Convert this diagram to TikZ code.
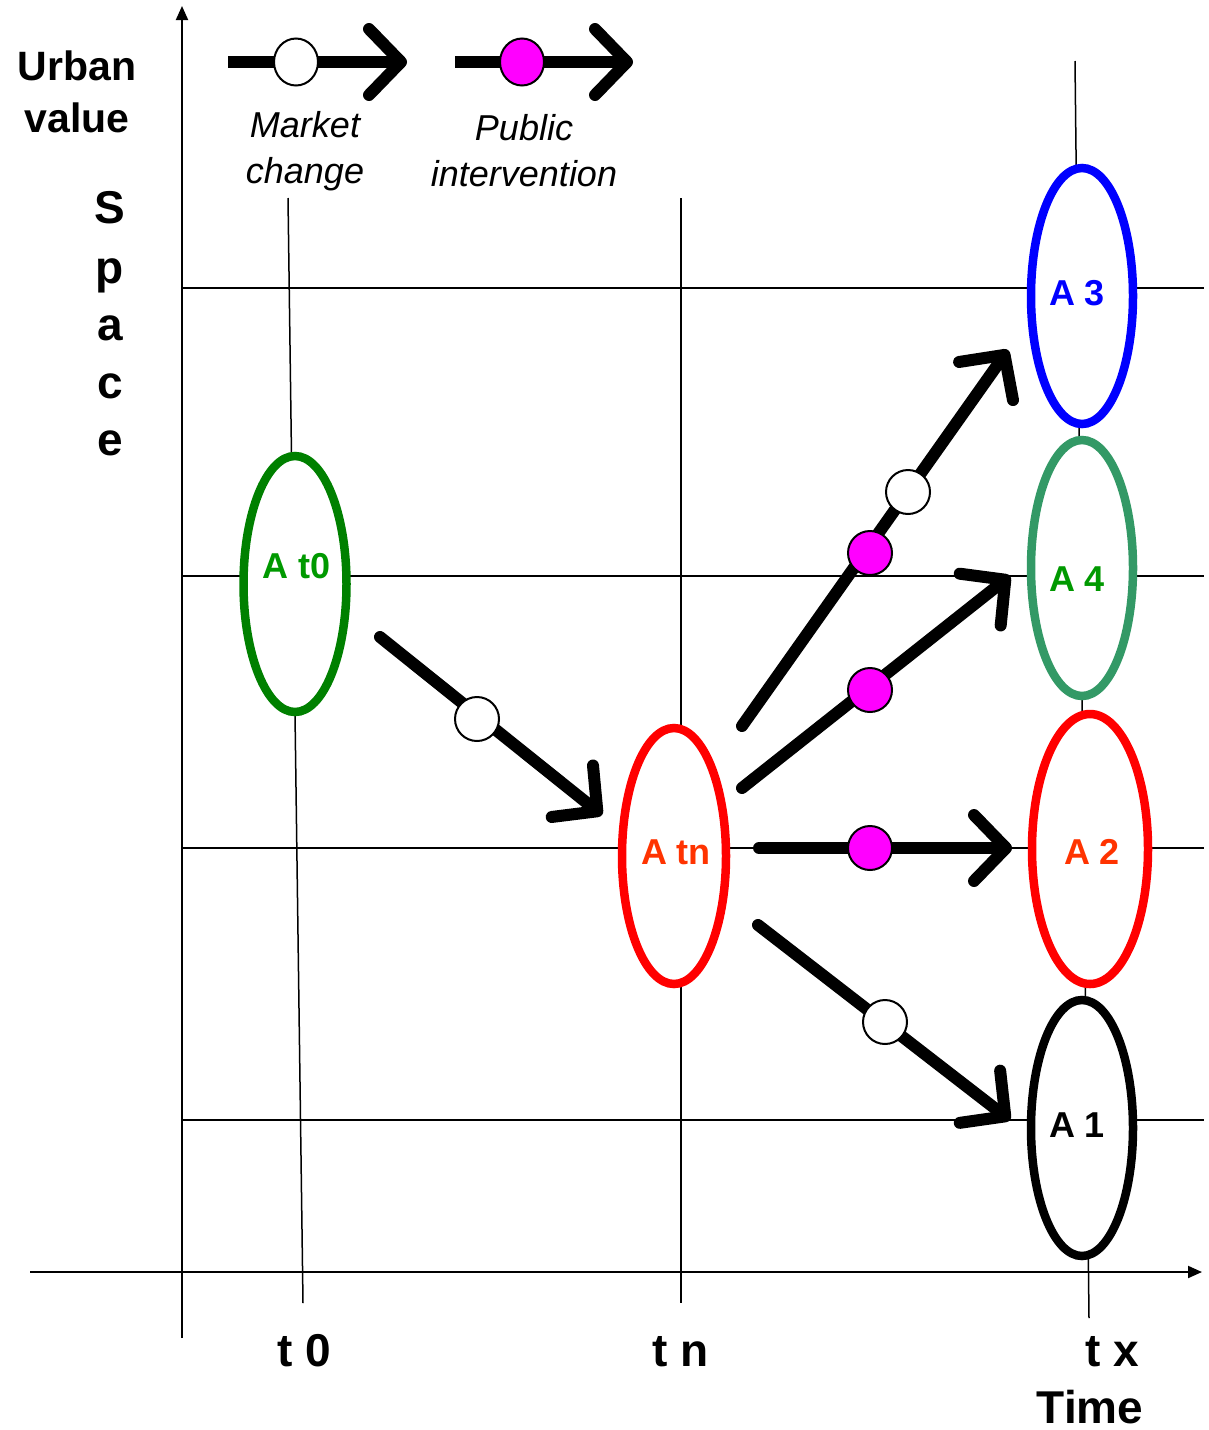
\documentclass[tikz,border=0pt]{standalone}
\usepackage{fontspec}
\setmainfont{Liberation Sans}
\usetikzlibrary{arrows.meta,shapes.geometric}
\definecolor{cgreen}{RGB}{0,128,0}
\definecolor{tgreen}{RGB}{0,153,0}
\definecolor{sgreen}{RGB}{51,153,102}
\definecolor{tred}{RGB}{255,51,0}
\definecolor{cmag}{RGB}{255,0,255}
\tikzset{
  axis/.style={line width=2pt,-{Triangle[length=14pt,width=12pt]}},
  grid/.style={line width=1.5pt},
  zone/.style={ellipse,line width=8.5pt,inner sep=0pt,fill=white},
  zlab/.style={font=\fontsize{36}{40}\selectfont\bfseries},
  flow/.style={line width=12pt,line cap=round,-{Straight Barb[length=32pt,width=66pt,round]}},
  mkt/.style={circle,draw=black,fill=white,line width=2pt,minimum size=44pt,inner sep=0pt},
  pub/.style={circle,draw=black,fill=cmag,line width=2pt,minimum size=44pt,inner sep=0pt},
  big/.style={font=\fontsize{46}{52}\selectfont\bfseries},
  lab/.style={font=\fontsize{36}{46}\selectfont\itshape,align=center}
}
\begin{document}
\begin{tikzpicture}[x=1pt,y=-1pt]
\useasboundingbox (0,0) rectangle (1209,1430);
% axes
\coordinate (yb) at (182,1338); \coordinate (yt) at (182,6);
\coordinate (xl) at (30,1272); \coordinate (xr) at (1202,1272);
\draw[axis] (yb) -- (yt);
\draw[axis] (xl) -- (xr);
% grid lines
\foreach \y/\n in {288/g3,576/g4,848/g2,1120/g1}{
  \coordinate (\n l) at (182,\y); \coordinate (\n r) at (1204,\y);
  \draw[grid] (\n l) -- (\n r);
}
% time lines
\coordinate (t0t) at (288,198); \coordinate (t0b) at (303,1303);
\coordinate (tnt) at (681,198); \coordinate (tnb) at (681,1303);
\coordinate (txt) at (1075,61); \coordinate (txb) at (1089,1318);
\draw[grid] (t0t) -- (t0b);
\draw[grid] (tnt) -- (tnb);
\draw[grid] (txt) -- (txb);
% zones
\node[zone,draw=cgreen,minimum width=103pt,minimum height=256pt] (At0) at (295,584) {};
\node[zone,draw=red,minimum width=104pt,minimum height=256pt] (Atn) at (674,856) {};
\node[zone,draw=blue,minimum width=102pt,minimum height=256pt] (A3) at (1082,296) {};
\node[zone,draw=sgreen,minimum width=102pt,minimum height=256pt] (A4) at (1082,568) {};
\node[zone,draw=red,minimum width=116pt,minimum height=270pt] (A2) at (1090,849) {};
\node[zone,draw=black,minimum width=102pt,minimum height=256pt] (A1) at (1082,1128) {};
\node[zlab,text=tgreen] (At0l) at (297,566) {A t0};
\node[zlab,text=tred] (Atnl) at (676,852) {A tn};
\node[zlab,text=blue] (A3l) at (1077,293) {A 3};
\node[zlab,text=tgreen] (A4l) at (1077,579) {A 4};
\node[zlab,text=tred] (A2l) at (1092,852) {A 2};
\node[zlab,text=black] (A1l) at (1077,1125) {A 1};
% flows
\coordinate (f1s) at (380,637); \coordinate (f1e) at (602,815);
\coordinate (f2s) at (742,726); \coordinate (f2e) at (1008,350);
\coordinate (f3s) at (742,788); \coordinate (f3e) at (1010,576);
\coordinate (f4s) at (759,848); \coordinate (f4e) at (1012,848);
\coordinate (f5s) at (758,925); \coordinate (f5e) at (1010,1120);
\draw[flow] (f1s) -- (f1e);
\draw[flow] (f2s) -- (f2e);
\draw[flow] (f3s) -- (f3e);
\draw[flow] (f4s) -- (f4e);
\draw[flow] (f5s) -- (f5e);
\node[mkt] (m1) at (477,719) {};
\node[pub] (p2) at (870,553) {};
\node[mkt] (m2) at (908,492) {};
\node[pub] (p3) at (870,690) {};
\node[pub] (p4) at (870,848) {};
\node[mkt] (m5) at (885,1022) {};
% legend
\coordinate (l1s) at (228,62); \coordinate (l1e) at (407,62);
\coordinate (l2s) at (455,62); \coordinate (l2e) at (633,62);
\draw[flow,line cap=butt] (l1s) -- (l1e);
\draw[flow,line cap=butt] (l2s) -- (l2e);
\node[mkt,minimum width=44pt,minimum height=47pt,ellipse] (lm) at (296,62) {};
\node[pub,minimum width=44pt,minimum height=47pt,ellipse] (lp) at (522,62) {};
\node[lab] (lmt) at (305,151) {Market\\change};
\node[lab] (lpt) at (524,151) {Public\\intervention};
% axis labels
\node[align=center,font=\fontsize{41}{52}\selectfont\bfseries] (uv) at (77,92) {Urban\\value};
\foreach \c/\y in {S/208,p/268,a/325,c/383,e/440}{
  \node[big,anchor=base] at (110,\y+15) {\c};
}
\node[big,anchor=base] (l0) at (304,1366) {t 0};
\node[big,anchor=base] (ln) at (681,1366) {t n};
\node[big,anchor=base] (lx) at (1112,1366) {t x};
\node[big,anchor=base,inner sep=0pt] (tm) at (1090,1423) {Time};
\end{tikzpicture}
\end{document}
